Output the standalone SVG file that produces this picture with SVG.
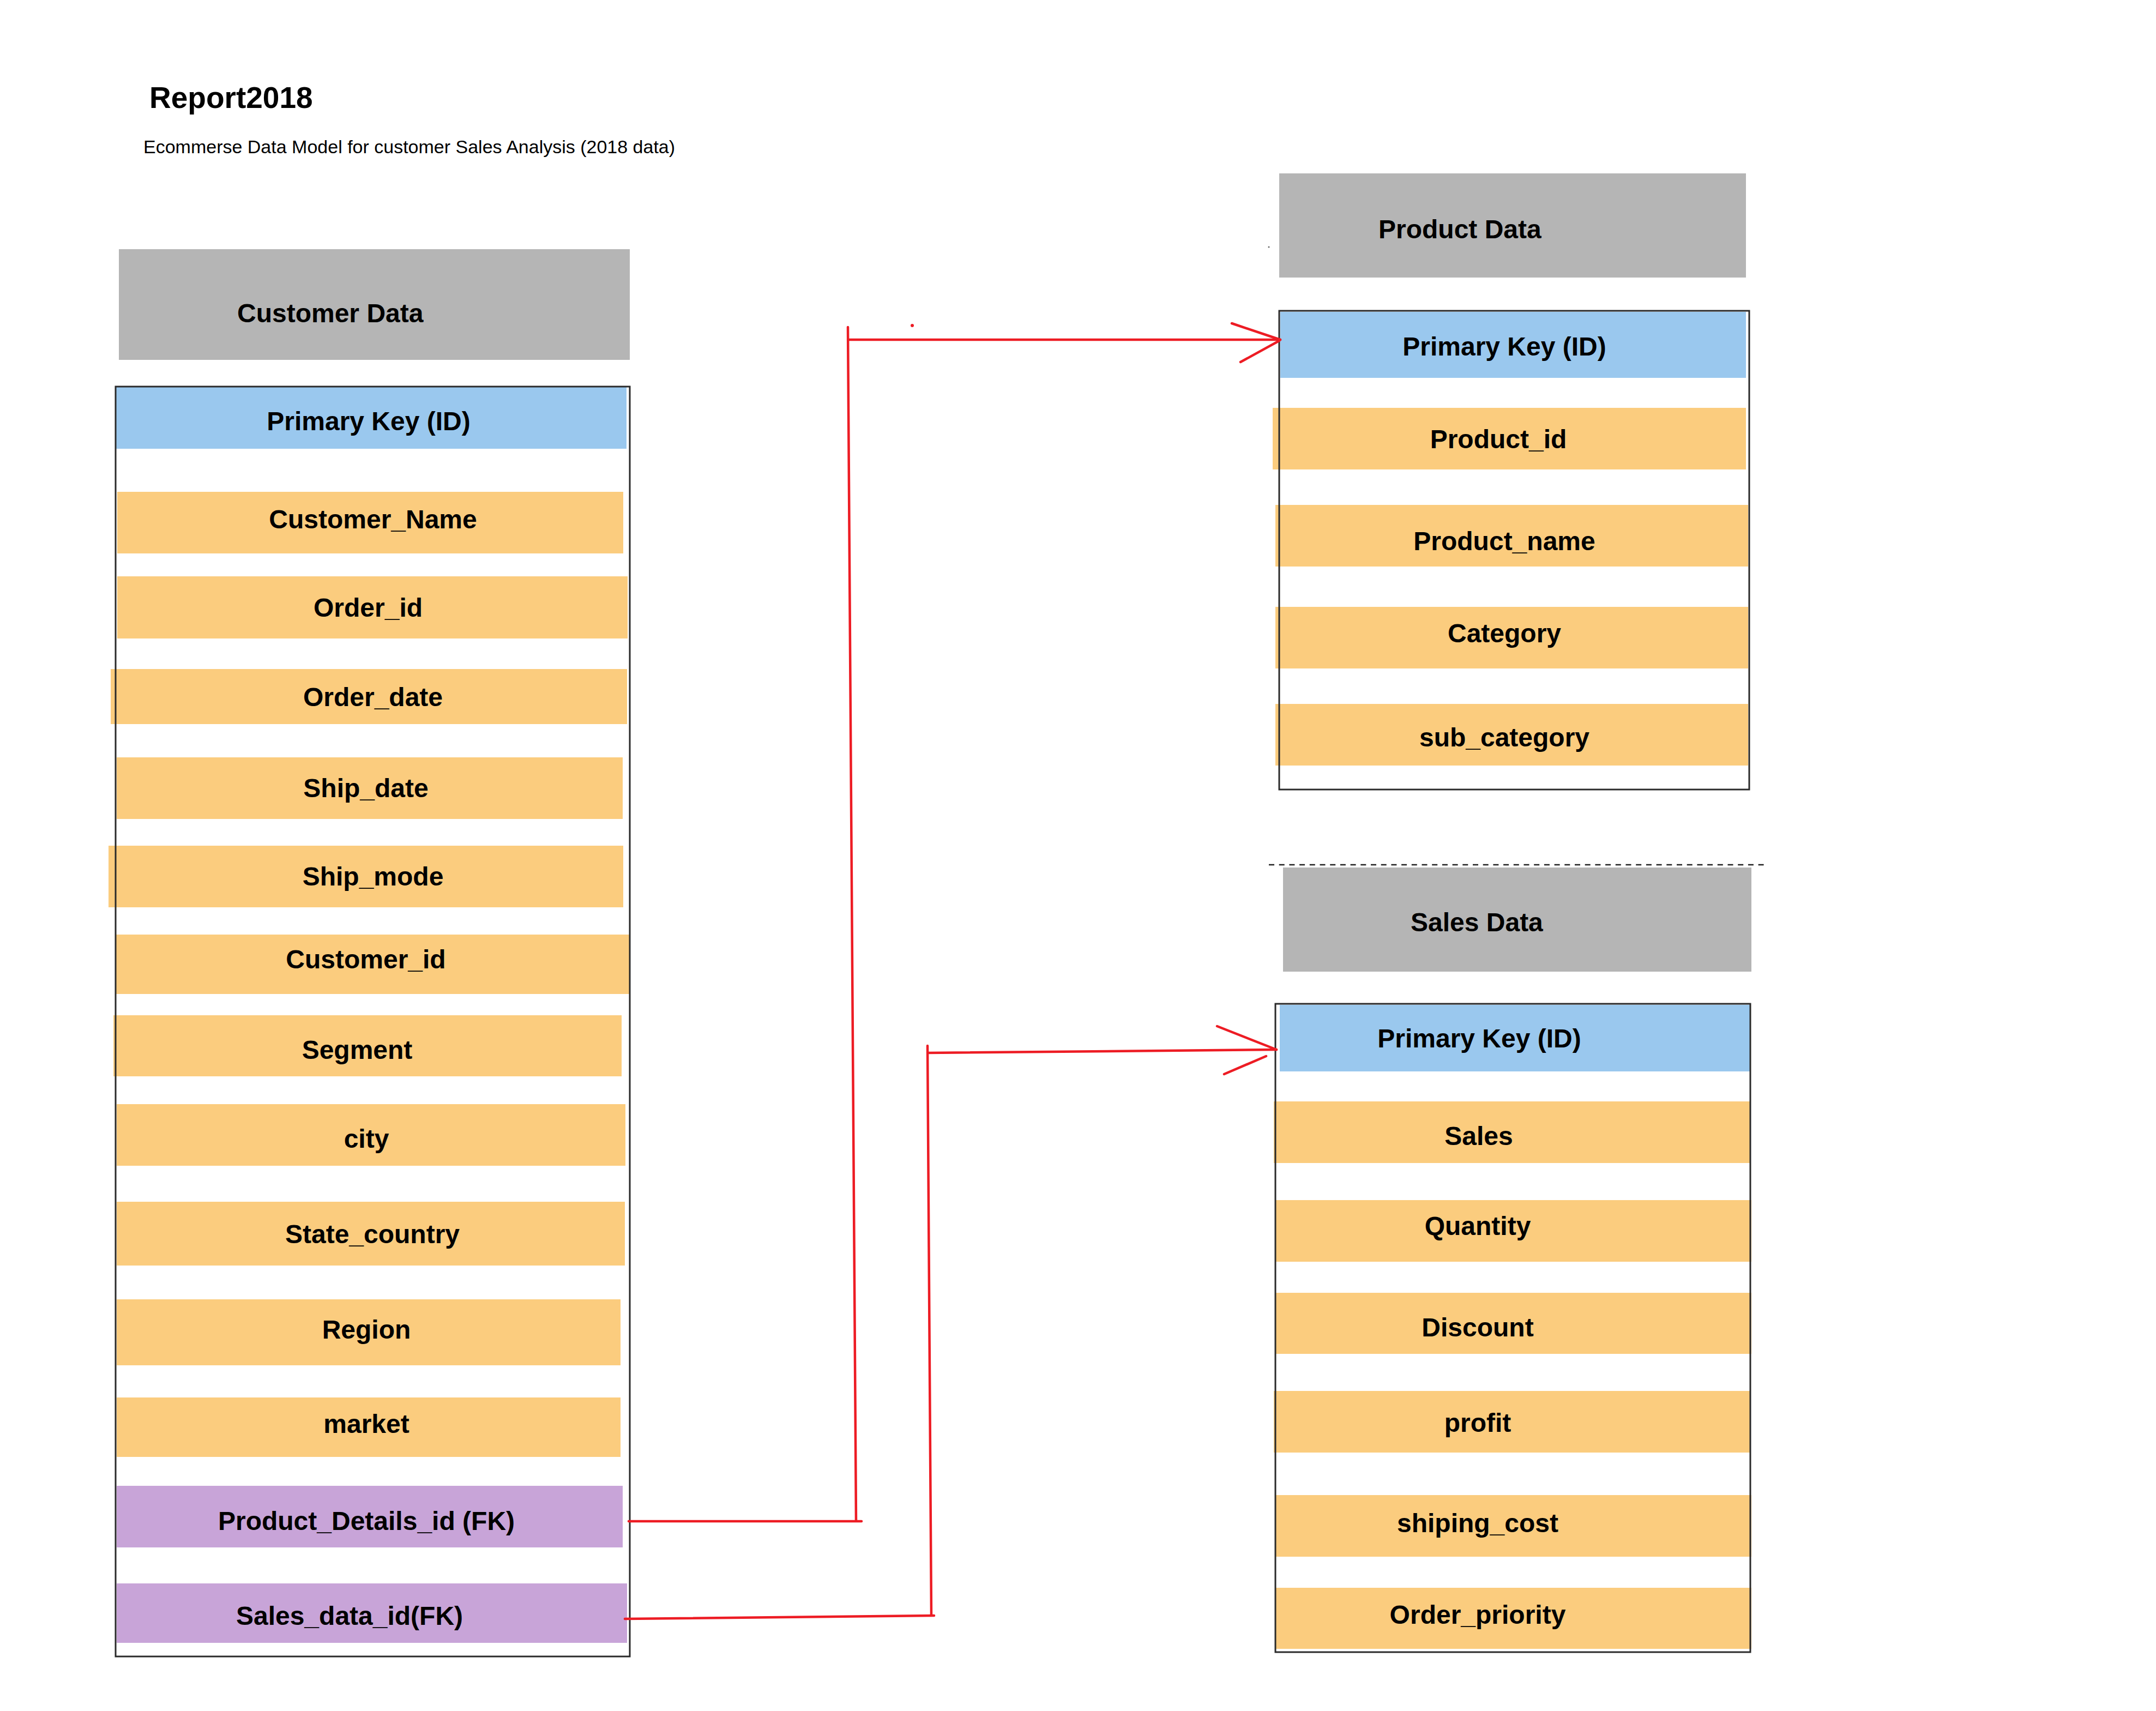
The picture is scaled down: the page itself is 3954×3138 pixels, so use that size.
<svg xmlns="http://www.w3.org/2000/svg" width="3954" height="3138" viewBox="0 0 3954 3138">
<style>
  text { font-family: "Liberation Sans", Arial, sans-serif; fill: #000; }
  .hdr { fill: #B5B5B5; }
  .pk { fill: #9AC8EE; }
  .fld { fill: #FBCC7E; }
  .fk { fill: #C8A4D8; }
  .box { fill: none; stroke: #2a2a2a; stroke-width: 3; }
  .lbl { font-size: 48px; font-weight: bold; text-anchor: middle; }
  .htxt { font-size: 48px; font-weight: bold; }
  .conn { fill: none; stroke: #ED1C24; stroke-width: 4.5; stroke-linecap: round; }
</style>
<rect width="3954" height="3138" fill="#fff"/>

<g id="title">
  <text x="274" y="198" font-size="55" font-weight="bold">Report2018</text>
  <text x="263" y="281" font-size="34">Ecommerse Data Model for customer Sales Analysis (2018 data)</text>
</g>

<g id="customer-data">
  <rect class="hdr" x="218" y="457" width="937" height="203"/>
  <text class="htxt" x="435" y="591">Customer Data</text>
  <rect class="pk" x="213" y="709" width="936" height="114"/>
  <text class="lbl" x="676" y="789">Primary Key (ID)</text>
  <rect class="fld" x="215" y="902" width="928" height="113"/>
  <text class="lbl" x="684" y="969">Customer_Name</text>
  <rect class="fld" x="215" y="1057" width="936" height="114"/>
  <text class="lbl" x="675" y="1131">Order_id</text>
  <rect class="fld" x="203" y="1227" width="947" height="101"/>
  <text class="lbl" x="684" y="1295">Order_date</text>
  <rect class="fld" x="214" y="1389" width="928" height="113"/>
  <text class="lbl" x="671" y="1462">Ship_date</text>
  <rect class="fld" x="199" y="1551" width="944" height="113"/>
  <text class="lbl" x="684" y="1624">Ship_mode</text>
  <rect class="fld" x="213" y="1714" width="942" height="109"/>
  <text class="lbl" x="671" y="1776">Customer_id</text>
  <rect class="fld" x="208" y="1862" width="932" height="112"/>
  <text class="lbl" x="655" y="1942">Segment</text>
  <rect class="fld" x="214" y="2025" width="933" height="113"/>
  <text class="lbl" x="672" y="2105">city</text>
  <rect class="fld" x="214" y="2204" width="932" height="117"/>
  <text class="lbl" x="683" y="2280">State_country</text>
  <rect class="fld" x="214" y="2383" width="924" height="121"/>
  <text class="lbl" x="672" y="2455">Region</text>
  <rect class="fld" x="214" y="2563" width="924" height="109"/>
  <text class="lbl" x="672" y="2628">market</text>
  <rect class="fk" x="214" y="2725" width="928" height="113"/>
  <text class="lbl" x="672" y="2806">Product_Details_id (FK)</text>
  <rect class="fk" x="214" y="2904" width="936" height="109"/>
  <text class="lbl" x="641" y="2980">Sales_data_id(FK)</text>
  <rect class="box" x="212" y="709" width="943" height="2329"/>
</g>

<g id="product-data">
  <rect class="hdr" x="2346" y="318" width="856" height="191"/>
  <circle cx="2327" cy="453" r="1.5" fill="#666"/>
  <text class="htxt" x="2528" y="437">Product Data</text>
  <rect class="pk" x="2348" y="572" width="854" height="121"/>
  <text class="lbl" x="2759" y="652">Primary Key (ID)</text>
  <rect class="fld" x="2334" y="748" width="868" height="113"/>
  <text class="lbl" x="2748" y="822">Product_id</text>
  <rect class="fld" x="2339" y="926" width="867" height="113"/>
  <text class="lbl" x="2759" y="1009">Product_name</text>
  <rect class="fld" x="2339" y="1113" width="867" height="113"/>
  <text class="lbl" x="2759" y="1178">Category</text>
  <rect class="fld" x="2339" y="1291" width="867" height="113"/>
  <text class="lbl" x="2759" y="1369">sub_category</text>
  <rect class="box" x="2346" y="570" width="862" height="878"/>
</g>

<line id="separator" x1="2327" y1="1586" x2="3243" y2="1586" stroke="#222" stroke-width="2.5" stroke-dasharray="10 8.7"/>

<g id="sales-data">
  <rect class="hdr" x="2353" y="1591" width="859" height="191"/>
  <text class="htxt" x="2587" y="1708">Sales Data</text>
  <rect class="pk" x="2347" y="1843" width="862" height="122"/>
  <text class="lbl" x="2713" y="1921">Primary Key (ID)</text>
  <rect class="fld" x="2336" y="2020" width="873" height="113"/>
  <text class="lbl" x="2712" y="2100">Sales</text>
  <rect class="fld" x="2339" y="2201" width="873" height="113"/>
  <text class="lbl" x="2710" y="2265">Quantity</text>
  <rect class="fld" x="2339" y="2371" width="873" height="112"/>
  <text class="lbl" x="2710" y="2451">Discount</text>
  <rect class="fld" x="2336" y="2551" width="873" height="113"/>
  <text class="lbl" x="2710" y="2626">profit</text>
  <rect class="fld" x="2339" y="2742" width="873" height="113"/>
  <text class="lbl" x="2710" y="2810">shiping_cost</text>
  <rect class="fld" x="2339" y="2912" width="873" height="112"/>
  <text class="lbl" x="2710" y="2978">Order_priority</text>
  <rect class="box" x="2339" y="1841" width="871" height="1189"/>
</g>

<g id="connectors">
  <path class="conn" d="M1153,2790 L1580,2790 M1570,2790 L1555,600 M1555,623 L2348,623"/>
  <path class="conn" d="M2259,593 L2348,623 M2275,664 L2346,625"/>
  <circle cx="1673" cy="597" r="3" fill="#ED1C24"/>
  <path class="conn" d="M1146,2969 L1713,2963 M1708,2963 L1701,1918 M1701,1931 L2341,1925"/>
  <path class="conn" d="M2232,1882 L2341,1925 M2245,1970 L2322,1937"/>
</g>
</svg>
